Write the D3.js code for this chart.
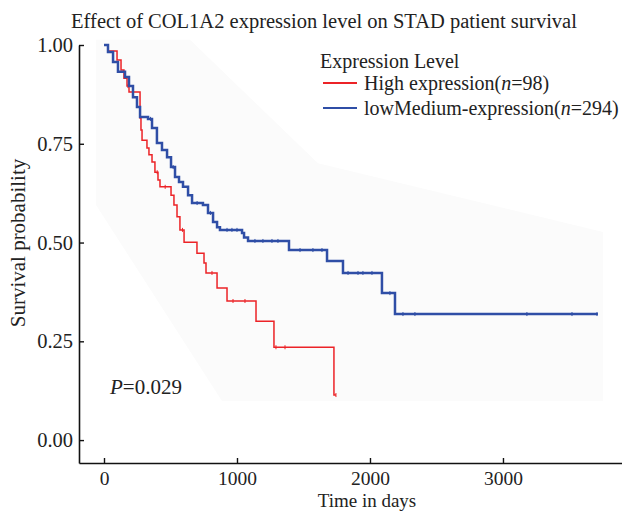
<!DOCTYPE html>
<html>
<head>
<meta charset="utf-8">
<script src="https://d3js.org/d3.v7.min.js"></script>
<style>
  body { margin: 0; background: #fff; }
  text { font-family: "Liberation Serif", "DejaVu Serif", serif; fill: #222; }
</style>
</head>
<body>
<svg width="622" height="512"></svg>
<script>
// Kaplan-Meier steps (days, survival after the event)
const highTimes = [0, 30, 98, 128, 150, 173, 188, 271, 278, 286, 323, 338, 361, 383, 406, 421,
  504, 526, 549, 571, 602, 699, 752, 767, 850, 925, 1143, 1278, 1729, 1744];
const highSurv = [1.000, 0.985, 0.962, 0.937, 0.916, 0.896, 0.881, 0.815, 0.785, 0.759, 0.739, 0.722,
  0.704, 0.678, 0.658, 0.641, 0.620, 0.595, 0.565, 0.532, 0.501, 0.473, 0.448, 0.423, 0.385, 0.352,
  0.301, 0.235, 0.114, 0.114];
const highCensor = [180, 400, 460, 590, 812, 970, 1060, 1293, 1361, 1744];

const lowTimes = [0, 30, 68, 105, 158, 188, 218, 248, 271, 331, 361, 398, 436, 474, 504, 534, 564,
  594, 632, 662, 744, 782, 820, 850, 872, 1038, 1053, 1083, 1391, 1677, 1797, 2090, 2188, 3714];
const lowSurv = [1.000, 0.982, 0.957, 0.932, 0.919, 0.896, 0.868, 0.843, 0.818, 0.813, 0.790, 0.752,
  0.734, 0.716, 0.691, 0.666, 0.653, 0.641, 0.620, 0.600, 0.595, 0.575, 0.552, 0.539, 0.532, 0.524,
  0.513, 0.504, 0.481, 0.453, 0.423, 0.372, 0.319, 0.319];
const lowCensor = [350, 520, 700, 800, 925, 962, 1000, 1135, 1195, 1263, 1308, 1474, 1571, 1639,
  1835, 1910, 1947, 2015, 2150, 2248, 2338, 3180, 3519, 3707];

// faint shaded band behind the curves
const bandTimes = [-60, 647, 1609, 3752, 3752, 887, -60];
const bandSurv = [1.013, 1.013, 0.701, 0.527, 0.099, 0.099, 0.595];

const xTicks = [0, 1000, 2000, 3000];
const yTicks = [0, 0.25, 0.5, 0.75, 1];
const legendLabels = ["High expression", "lowMedium-expression"];
const legendN = [98, 294];
const colors = ["#ec2327", "#2f4ea6"];

const svg = d3.select("svg");

const x = d3.scaleLinear().domain([-188, 3895]).range([79, 622]);
const y = d3.scaleLinear().domain([-0.058, 1]).range([463, 45]);

// band
svg.append("path")
  .attr("d", d3.line().x((d, i) => x(bandTimes[i])).y((d, i) => y(bandSurv[i]))(bandTimes) + "Z")
  .attr("fill", "#fbfbfb");

// axes
const xAxis = svg.append("g")
  .attr("transform", "translate(0,463)")
  .call(d3.axisBottom(x).tickValues(xTicks).tickFormat(d3.format("d")).tickSizeInner(-5).tickSizeOuter(0).tickPadding(8));
const yAxis = svg.append("g")
  .attr("transform", "translate(79,0)")
  .call(d3.axisLeft(y).tickValues(yTicks).tickFormat(d3.format(".2f")).tickSizeInner(-5).tickSizeOuter(0).tickPadding(6));
[xAxis, yAxis].forEach(g => {
  g.select(".domain").attr("stroke", "#111").attr("stroke-width", 1.6);
  g.selectAll(".tick line").attr("stroke", "#111").attr("stroke-width", 1.4);
  g.selectAll(".tick text").attr("font-family", "Liberation Serif").attr("font-size", 20.5).attr("fill", "#222");
});
xAxis.selectAll(".tick text").attr("font-size", 19.5);

// curves
function drawCurve(times, surv, censor, color, width) {
  const pts = times.map((t, i) => [t, surv[i]]);
  svg.append("path")
    .attr("d", d3.line().curve(d3.curveStepAfter).x(d => x(d[0])).y(d => y(d[1]))(pts))
    .attr("fill", "none")
    .attr("stroke", color)
    .attr("stroke-width", width);
  const survAt = t => {
    let s = surv[0];
    times.forEach((tt, i) => { if (tt <= t) s = surv[i]; });
    return s;
  };
  svg.append("g").selectAll("line").data(censor).join("line")
    .attr("x1", d => x(d)).attr("x2", d => x(d))
    .attr("y1", d => y(survAt(d)) - 2).attr("y2", d => y(survAt(d)) + 2)
    .attr("stroke", color).attr("stroke-width", 1);
}
drawCurve(highTimes, highSurv, highCensor, colors[0], 1.5);
drawCurve(lowTimes, lowSurv, lowCensor, colors[1], 2.5);

// title and axis labels
svg.append("text").attr("x", 324).attr("y", 28).attr("text-anchor", "middle")
  .attr("font-size", 20.5).text("Effect of COL1A2 expression level on STAD patient survival");
svg.append("text").attr("transform", "translate(25,243) rotate(-90)").attr("text-anchor", "middle")
  .attr("font-size", 21).text("Survival probability");
svg.append("text").attr("x", 367).attr("y", 507).attr("text-anchor", "middle")
  .attr("font-size", 19).text("Time in days");

// P value
const pt = svg.append("text").attr("x", 110).attr("y", 394).attr("font-size", 21);
pt.append("tspan").attr("font-style", "italic").text("P");
pt.append("tspan").text("=0.029");

// legend
svg.append("text").attr("x", 320).attr("y", 68).attr("font-size", 20).text("Expression Level");
legendLabels.forEach((lab, i) => {
  const yy = 83 + i * 25;
  svg.append("line").attr("x1", 323).attr("x2", 357).attr("y1", yy).attr("y2", yy)
    .attr("stroke", colors[i]).attr("stroke-width", 2);
  const t = svg.append("text").attr("x", 364).attr("y", yy + 7).attr("font-size", 20);
  t.append("tspan").text(lab + "(");
  t.append("tspan").attr("font-style", "italic").text("n");
  t.append("tspan").text("=" + legendN[i] + ")");
});
</script>
</body>
</html>
